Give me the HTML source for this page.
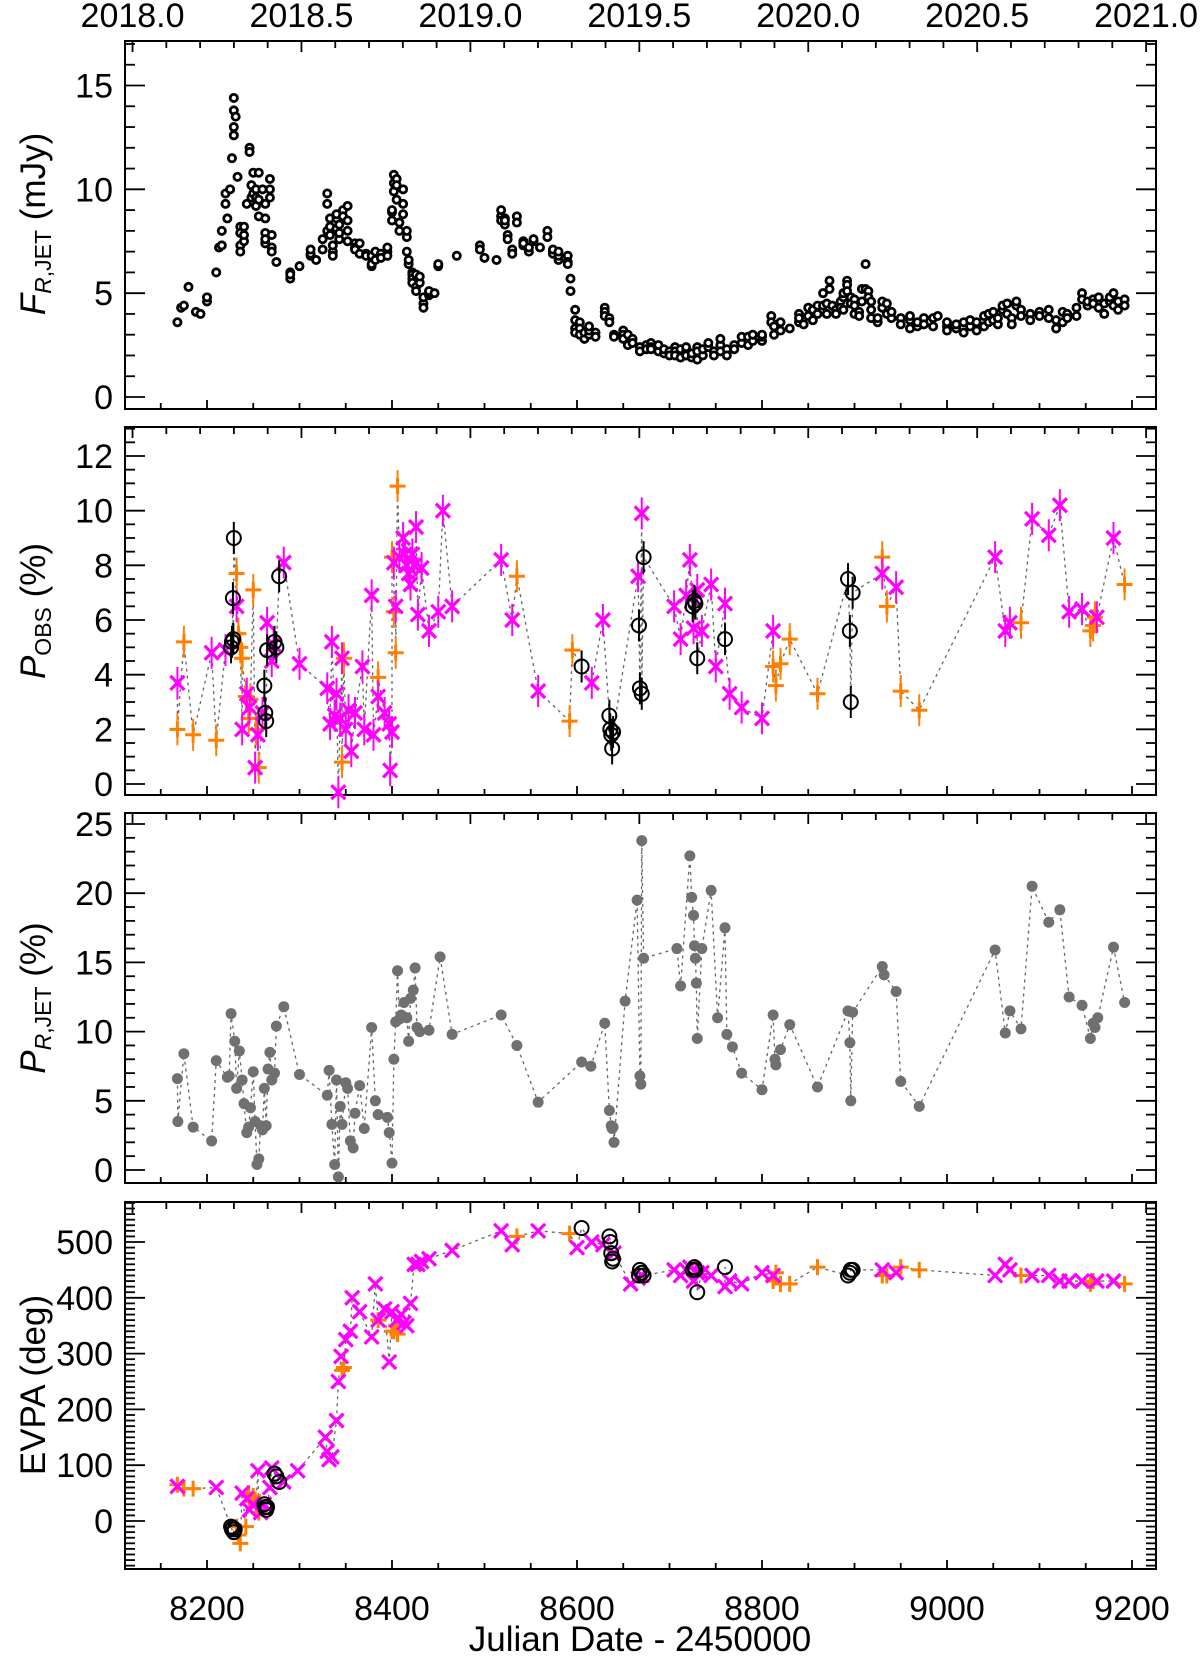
<!DOCTYPE html>
<html><head><meta charset="utf-8">
<style>
html,body{margin:0;padding:0;background:#fff;}
svg{display:block;font-family:"Liberation Sans",sans-serif;}
</style></head>
<body>
<svg id="chart" width="1200" height="1656" viewBox="0 0 1200 1656" xmlns="http://www.w3.org/2000/svg"></svg>
<script>
// ---------- DATA ----------
const fluxDays=[8168,8172,8175,8180,8188,8193,8200,8210,8213,8216,8220,8222,8225,8227,8229,8231,8233,8236,8240,8243,8246,8248,8250,8253,8256,8260,8263,8268,8270,8275,8290,8300,8312,8318,8325,8330,8333,8336,8340,8343,8347,8352,8360,8365,8372,8378,8382,8388,8395,8400,8402,8405,8408,8412,8416,8418,8422,8426,8430,8434,8440,8446,8450,8470,8495,8500,8513,8518,8522,8525,8530,8535,8542,8548,8553,8560,8568,8574,8580,8590,8593,8598,8603,8608,8613,8620,8630,8635,8640,8650,8655,8660,8668,8675,8680,8688,8694,8700,8706,8712,8718,8724,8730,8736,8742,8748,8755,8762,8770,8778,8785,8790,8800,8810,8813,8820,8830,8840,8845,8850,8855,8860,8866,8870,8873,8876,8880,8885,8888,8892,8896,8900,8905,8908,8912,8915,8918,8925,8930,8935,8940,8950,8960,8968,8975,8985,8990,9000,9010,9018,9025,9032,9040,9045,9050,9055,9060,9065,9070,9075,9080,9090,9100,9110,9118,9125,9130,9140,9146,9152,9158,9164,9170,9176,9180,9185,9192];
const fluxVals=[[3.6],[4.3],[4.4],[5.3],[4.1],[4.0],[4.6,4.8],[6.0],[7.2],[7.3,8.0],[9.3,9.8],[8.6],[10.0],[11.5],[14.4,13.8,13.0,12.6],[13.5],[10.6],[8.2,7.9,7.3,7.0],[7.5,8.2,7.8],[9.3],[12.0,11.8],[10.2,9.6],[9.8,10.8],[10.0,9.6,9.2],[8.7,9.5,10.8],[10.0],[9.3,8.6,7.9,7.4,7.6],[10.5,10.0,9.6],[7.8,7.2,7.0],[6.5],[6.0,5.7,5.9],[6.3],[6.8,6.9,7.1],[6.6],[7.1,7.6],[8.0,9.8,9.3],[7.8,8.2,8.6],[7.0,6.8,7.3],[8.6,8.8,8.1],[7.6,7.9,8.3],[9.0,8.7],[8.5,9.2,8.0,7.5],[7.4,7.2,7.1],[6.9,7.4],[6.9,6.8],[6.3,6.8,6.4],[7.0,6.6],[6.9,6.7],[7.0,6.8,7.2],[8.5,8.9,9.0],[10.7,10.3,9.9],[10.5,10.2,9.5],[8.4,8.0],[10.0,9.3,8.8],[7.7,8.0,7.0],[6.4,6.6],[6.0,5.9,5.7,5.5],[5.3,5.1,5.9],[5.5,5.8],[4.5,4.3,4.8],[4.9,5.0,5.1],[5.0],[6.3,6.4],[6.8],[7.3,7.1],[6.7],[6.6],[8.7,9.0,8.5],[8.6,8.3,8.5],[7.8,7.6],[7.1,6.9],[8.7,8.4],[7.5,7.3,7.4],[7.0,7.2],[7.5,7.6],[7.2],[8.0,7.7],[7.0,6.9,7.1],[6.6,6.8,7.0],[6.8,6.5,6.4],[5.7,5.1],[4.2,3.7,3.3,3.1],[3.6,3.3,3.0],[2.8,3.1],[3.0,3.2,3.4],[3.1,2.9],[4.3,4.1,3.9],[3.8,3.6],[3.0,2.9],[3.2,3.0,2.8],[3.0,2.5],[2.8,2.6],[2.4,2.2],[2.5,2.3],[2.6,2.4,2.3],[2.2,2.5],[2.1,2.3],[2.2,2.0],[2.4,2.2,2.0],[1.9,2.3],[2.2,2.4,2.0],[1.9,2.1],[1.8,2.4,2.2],[2.0,2.3],[2.4,2.6],[2.2,2.0],[2.5,2.8,2.2],[2.3,2.0],[2.5,2.3],[2.6,2.9],[2.9,2.5],[2.7,3.0],[2.7,2.9,3.0],[3.9,3.6],[3.4,3.0],[3.6,3.2],[3.3],[4.0,3.6,3.8],[3.5],[4.3,3.9],[3.7,4.2],[4.4,4.0],[4.4,5.0],[4.0,4.5],[5.6,5.2],[4.4],[4.2,4.0],[4.6,4.3],[4.8,5.0,4.2],[5.6,5.4,5.1],[4.8,4.5],[4.7,4.4,4.0],[4.1,3.9],[4.6,5.2],[5.2,6.4],[5.1,4.8],[4.2,4.6,3.8],[3.6,3.8],[4.3,4.6],[4.0,4.5],[3.8,4.1],[3.8,3.5],[3.3,3.7,3.9],[3.4,3.6],[3.8,3.5],[3.4,3.8],[3.9],[3.4,3.2,3.6],[3.3,3.5],[3.6,3.1],[3.4,3.7],[3.2,3.6],[3.9,3.4],[4.0,3.6],[4.1,3.7],[3.5,3.8],[4.2,4.4],[4.5,4.0],[3.8,3.5],[4.4,4.6],[4.2,3.9],[4.0,3.7],[4.1,3.9],[4.2,3.8],[3.3,3.7],[3.6,4.1],[4.0,3.8],[4.3,3.9],[5.0,4.7],[4.4,4.6],[4.7,4.5],[4.8,4.3],[4.5,4.0],[4.6,4.8],[5.0,4.4],[4.2,4.6],[4.7,4.4]];

const pMagDays=[8168,8205,8220,8232,8238,8243,8246,8252,8255,8260,8265,8270,8272,8283,8300,8330,8333,8335,8338,8340,8342,8344,8346,8350,8353,8356,8360,8368,8370,8378,8380,8385,8392,8397,8398,8400,8402,8404,8408,8412,8414,8416,8418,8420,8422,8424,8426,8428,8432,8440,8450,8455,8465,8518,8530,8558,8616,8628,8666,8670,8705,8712,8718,8722,8726,8730,8735,8745,8750,8760,8765,8778,8800,8812,8930,8945,9052,9063,9068,9092,9110,9122,9132,9146,9162,9180];
const pMagVals=[3.7,4.8,4.9,6.5,2.0,3.3,2.8,0.6,1.8,2.6,5.9,4.5,5.1,8.1,4.4,3.5,2.2,5.2,2.5,3.3,-0.3,2.4,4.6,2.0,2.7,1.2,2.6,4.3,2.0,6.9,1.8,3.2,2.6,2.2,0.5,1.9,8.1,6.5,8.3,9.0,8.4,8.0,7.7,7.3,8.4,8.0,9.4,6.2,7.9,5.6,6.3,10.0,6.5,8.2,6.0,3.4,3.7,6.0,7.6,9.9,6.5,5.3,6.9,8.2,5.7,7.1,5.6,7.3,4.3,6.6,3.3,2.8,2.4,5.6,7.7,7.2,8.3,5.6,5.9,9.7,9.1,10.2,6.3,6.4,6.1,9.0];
const pOrDays=[8168,8175,8185,8210,8232,8234,8236,8238,8242,8245,8247,8250,8253,8256,8346,8348,8385,8400,8402,8404,8406,8535,8592,8595,8812,8815,8820,8830,8860,8930,8935,8950,8970,9080,9155,9158,9160,9192];
const pOrVals=[2.0,5.2,1.8,1.6,7.7,5.5,5.0,4.6,3.2,2.4,3.1,7.1,2.0,0.6,0.8,4.6,3.9,8.3,6.3,4.8,10.9,7.6,2.3,4.9,4.3,3.6,4.4,5.3,3.3,8.3,6.5,3.4,2.7,5.9,5.6,5.8,6.1,7.3];
const pBkDays=[8226,8227,8228,8228.5,8229,8262,8263,8264,8265,8273,8275,8278,8605,8635,8636,8637,8638,8639,8667,8668,8670,8672,8725,8727,8728,8730,8760,8893,8895,8896,8898];
const pBkVals=[5.0,5.2,6.8,5.3,9.0,3.6,2.6,2.3,4.9,5.2,5.0,7.6,4.3,2.5,2.0,1.8,1.3,1.9,5.8,3.5,3.3,8.3,6.5,6.7,6.6,4.6,5.3,7.5,5.6,3.0,7.0];

const jetDays=[8168,8168.5,8175,8185,8205,8210,8222,8224,8226,8230,8232,8235,8238,8240,8243,8245,8247,8250,8252,8254,8256,8258,8260,8262,8264,8266,8268,8270,8273,8275,8283,8300,8330,8332,8335,8338,8340,8342,8344,8346,8350,8352,8355,8358,8360,8365,8370,8378,8382,8385,8395,8397,8400,8402,8404,8406,8408,8410,8413,8416,8418,8420,8423,8425,8427,8430,8440,8452,8465,8518,8535,8558,8605,8615,8630,8635,8637,8638,8639,8640,8652,8665,8668,8669,8670,8672,8708,8712,8722,8724,8726,8727,8728,8729,8730,8735,8745,8752,8760,8762,8768,8778,8800,8812,8814,8815,8820,8830,8860,8893,8895,8896,8898,8930,8932,8945,8950,8970,9052,9063,9068,9080,9092,9110,9122,9132,9146,9155,9158,9160,9163,9180,9192];
const jetVals=[6.6,3.5,8.4,3.1,2.1,7.9,6.7,6.8,11.3,9.3,5.9,8.6,6.5,4.8,2.7,3.1,4.5,7.1,3.5,0.4,0.8,3.2,2.9,5.9,3.2,7.3,8.5,6.5,7.0,10.4,11.8,6.9,5.4,7.2,3.3,0.4,6.5,-0.5,4.6,3.3,6.3,5.9,2.1,1.6,4.1,6.1,3.0,10.3,5.0,4.0,3.8,2.7,0.5,8.0,10.7,14.4,10.9,11.2,12.1,11.0,9.3,12.4,13.0,14.6,10.3,10.0,10.1,15.4,9.8,11.2,9.0,4.9,7.8,7.5,10.6,4.3,3.2,3.0,3.1,2.0,12.2,19.5,6.8,6.2,23.8,15.3,16.0,13.3,22.7,19.7,18.4,16.2,15.3,13.5,9.5,16.0,20.2,11.0,17.5,9.8,8.9,7.0,5.8,11.2,8.0,7.6,8.7,10.5,6.0,11.5,9.2,5.0,11.4,14.7,14.1,12.9,6.4,4.6,15.9,9.9,11.5,10.2,20.5,17.9,18.8,12.5,11.9,9.5,10.6,10.3,11.0,16.1,12.1];

const eMagDays=[8168,8210,8238,8243,8246,8250,8255,8258,8262,8268,8270,8283,8298,8328,8330,8332,8335,8340,8342,8345,8350,8355,8357,8365,8378,8382,8385,8392,8397,8400,8405,8410,8413,8416,8420,8424,8428,8432,8440,8465,8518,8530,8558,8600,8616,8628,8640,8658,8666,8670,8705,8712,8718,8722,8726,8730,8735,8745,8760,8765,8778,8800,8812,8930,8945,9052,9063,9068,9092,9110,9122,9132,9146,9162,9180];
const eMagVals=[62,60,50,40,20,30,90,15,30,60,95,70,90,150,125,110,115,180,250,295,325,340,400,375,330,425,360,380,285,375,360,370,355,350,390,460,460,465,470,485,520,495,520,490,500,495,480,425,435,440,450,440,450,455,430,445,445,440,420,430,425,445,440,450,445,440,460,450,440,440,430,430,430,430,430];
const eOrDays=[8168,8175,8185,8232,8234,8236,8242,8245,8247,8250,8253,8256,8346,8348,8385,8400,8402,8404,8406,8535,8592,8812,8815,8820,8830,8860,8930,8935,8950,8970,9080,9155,9158,9192];
const eOrVals=[65,58,58,-10,-25,-40,-10,50,35,45,30,15,270,275,360,340,340,350,335,510,515,430,445,425,425,455,440,440,455,450,440,425,430,425];
const eBkDays=[8226,8227,8228,8229,8230,8262,8263,8264,8265,8273,8275,8278,8605,8635,8636,8637,8638,8639,8667,8668,8670,8672,8725,8727,8728,8730,8760,8893,8895,8896,8898];
const eBkVals=[-10,-15,-12,-20,-15,30,25,20,25,85,80,70,525,510,500,480,465,470,440,450,445,440,450,455,450,410,455,440,445,450,450];

const xTicks=[8200,8400,8600,8800,9000,9200];
const yearTicks=["2018.0","2018.5","2019.0","2019.5","2020.0","2020.5","2021.0"];

// ---------- DRAW ----------
const NS="http://www.w3.org/2000/svg";
const svg=document.getElementById('chart');
function mk(tag,attrs,parent){const e=document.createElementNS(NS,tag);for(const k in attrs)e.setAttribute(k,attrs[k]);(parent||svg).appendChild(e);return e;}
const L=125,R=1156;
const X=d=>207+(d-8200)*0.925;
const yearToX=y=>X(8119.5+(y-2018)*365.25);
function yScale(p){return v=>p.py0+(v-p.v0)*(p.py1-p.py0)/(p.v1-p.v0);}
const panels=[
 {top:41,bot:409,v0:0,py0:397,v1:15,py1:85.5,major:5,minor:1,labels:[0,5,10,15],name:'flux-panel'},
 {top:427,bot:795,v0:0,py0:784,v1:12,py1:456,major:2,minor:0.5,labels:[0,2,4,6,8,10,12],name:'pobs-panel'},
 {top:813,bot:1183,v0:0,py0:1170,v1:25,py1:824,major:5,minor:1,labels:[0,5,10,15,20,25],name:'pjet-panel'},
 {top:1202,bot:1569,v0:0,py0:1521,v1:500,py1:1242,major:100,minor:10,labels:[0,100,200,300,400,500],name:'evpa-panel'}
];
panels.forEach((p,i)=>{
 p.Y=yScale(p);
 const g=mk('g',{});
 
 
 mk('rect',{x:L,y:p.top,width:R-L,height:p.bot-p.top,fill:'none',stroke:'#000','stroke-width':2},g);
 const k=(p.py1-p.py0)/(p.v1-p.v0);
 const vmin=(p.bot-p.py0)/k+p.v0, vmax=(p.top-p.py0)/k+p.v0;
 const lo=Math.min(vmin,vmax), hi=Math.max(vmin,vmax);
 for(let v=Math.ceil(lo/p.minor)*p.minor; v<=hi+1e-9; v+=p.minor){
   const y=p.Y(v); const isMaj=Math.abs(v/p.major-Math.round(v/p.major))<1e-6;
   const len=isMaj?20:10;
   mk('line',{x1:L,x2:L+len,y1:y,y2:y,stroke:'#000','stroke-width':1.8},g);
   mk('line',{x1:R,x2:R-len,y1:y,y2:y,stroke:'#000','stroke-width':1.8},g);
 }
 p.labels.forEach(v=>{const t=mk('text',{x:113,y:p.Y(v)+12,'text-anchor':'end','font-size':34},g);t.textContent=v;
   
   });
 for(let d=8150; d<=9200; d+=50){const x=X(d);const len=(d%200===0)?9:6;mk('line',{x1:x,x2:x,y1:p.bot,y2:p.bot-len,stroke:'#000','stroke-width':1.8},g);}
 for(let kk=0;kk<=30;kk++){const x=yearToX(2018+kk*0.1);if(x<L||x>R)continue;const len=(kk%5===0)?11:7;mk('line',{x1:x,x2:x,y1:p.top,y2:p.top+len,stroke:'#000','stroke-width':1.8},g);}
});
yearTicks.forEach(s=>{const t=mk('text',{x:yearToX(parseFloat(s)),y:27,'text-anchor':'middle','font-size':34});t.textContent=s;
 
 });
xTicks.forEach(d=>{const t=mk('text',{x:X(d),y:1620,'text-anchor':'middle','font-size':34});t.textContent=d;
 
 });
const xl=mk('text',{x:640,y:1651,'text-anchor':'middle','font-size':35});xl.textContent='Julian Date - 2450000';


function ytitle(cy,html,name){const t=mk('text',{x:0,y:0,'text-anchor':'middle','font-size':35,transform:`translate(45,${cy}) rotate(-90)`});t.innerHTML=html;
 
 }
ytitle(224,'<tspan font-style="italic">F</tspan><tspan font-size="23" dy="6" font-style="italic">R</tspan><tspan font-size="23">,JET</tspan><tspan dy="-6"> (mJy)</tspan>','flux-y-title');
ytitle(611,'<tspan font-style="italic">P</tspan><tspan font-size="23" dy="6">OBS</tspan><tspan dy="-6"> (%)</tspan>','pobs-y-title');
ytitle(998,'<tspan font-style="italic">P</tspan><tspan font-size="23" dy="6" font-style="italic">R</tspan><tspan font-size="23">,JET</tspan><tspan dy="-6"> (%)</tspan>','pjet-y-title');
ytitle(1385,'EVPA (deg)','evpa-y-title');

function dashed(p,series,name){
 const pts=[];series.forEach(s=>s[0].forEach((d,i)=>pts.push([d,s[1][i]])));
 pts.sort((a,b)=>a[0]-b[0]);
 const path=mk('polyline',{points:pts.map(q=>X(q[0])+','+p.Y(q[1])).join(' '),fill:'none',stroke:'#666','stroke-width':1.3,'stroke-dasharray':'3,4'});
 
 
}
function marker(type,x,y,err){
 const g=mk('g',{});
 if(type==='x'){
   if(err)mk('line',{x1:x,x2:x,y1:y-err,y2:y+err,stroke:'#ff00ff','stroke-width':2},g);
   mk('path',{d:`M${x-7},${y-7}L${x+7},${y+7}M${x-7},${y+7}L${x+7},${y-7}`,stroke:'#ff00ff','stroke-width':3.2},g);
 }else if(type==='+'){
   if(err)mk('line',{x1:x,x2:x,y1:y-err,y2:y+err,stroke:'#ff7f00','stroke-width':2},g);
   mk('path',{d:`M${x-8},${y}L${x+8},${y}M${x},${y-8}L${x},${y+8}`,stroke:'#ff7f00','stroke-width':3},g);
 }else if(type==='o'){
   if(err)mk('line',{x1:x,x2:x,y1:y-err,y2:y+err,stroke:'#000','stroke-width':2},g);
   mk('circle',{cx:x,cy:y,r:7,fill:'none',stroke:'#000','stroke-width':2},g);
 }else if(type==='dot'){
   mk('circle',{cx:x,cy:y,r:5.5,fill:'#707070'},g);
 }else if(type==='ring'){
   mk('circle',{cx:x,cy:y,r:3.6,fill:'#fff',stroke:'#000','stroke-width':2.8},g);
 }
 return g;
}
const p1=panels[0];
fluxDays.forEach((d,i)=>fluxVals[i].forEach(v=>{const m=marker('ring',X(d),p1.Y(v));
 
 }));
const p2=panels[1];
dashed(p2,[[pMagDays,pMagVals],[pOrDays,pOrVals],[pBkDays,pBkVals]],'pobs-connector');
pOrDays.forEach((d,i)=>{const m=marker('+',X(d),p2.Y(pOrVals[i]),16);
 
 });
pMagDays.forEach((d,i)=>{const m=marker('x',X(d),p2.Y(pMagVals[i]),16);
 
 });
pBkDays.forEach((d,i)=>{const m=marker('o',X(d),p2.Y(pBkVals[i]),16);
 
 });
const p3=panels[2];
dashed(p3,[[jetDays,jetVals]],'pjet-connector');
jetDays.forEach((d,i)=>{const m=marker('dot',X(d),p3.Y(jetVals[i]));
 
 });
const p4=panels[3];
dashed(p4,[[eMagDays,eMagVals],[eOrDays,eOrVals],[eBkDays,eBkVals]],'evpa-connector');
eOrDays.forEach((d,i)=>{const m=marker('+',X(d),p4.Y(eOrVals[i]),0);
 
 });
eMagDays.forEach((d,i)=>{const m=marker('x',X(d),p4.Y(eMagVals[i]),0);
 
 });
eBkDays.forEach((d,i)=>{const m=marker('o',X(d),p4.Y(eBkVals[i]),0);
 
 });
</script>
</body></html>
